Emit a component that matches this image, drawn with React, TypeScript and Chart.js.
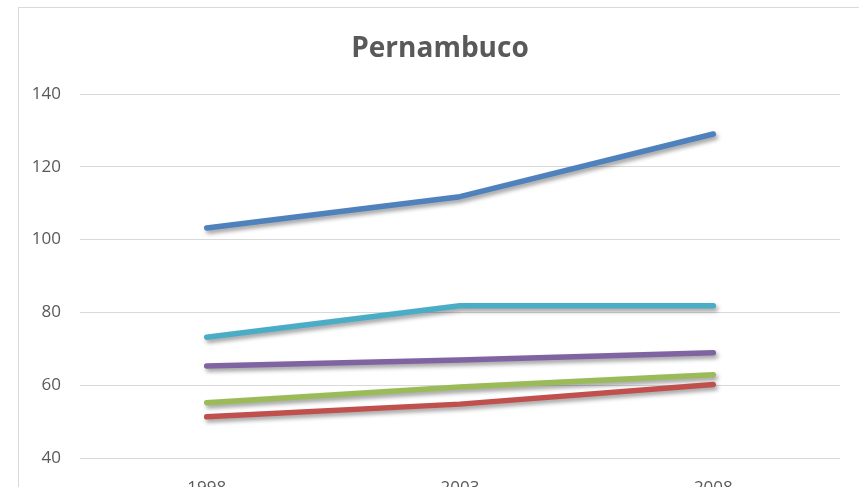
import React, { useEffect, useRef } from "react";
import { Chart, registerables } from "chart.js";

Chart.register(...registerables);

const categories = ["1998", "2003", "2008"];
const serieAzul = [103.2, 111.8, 129.0];
const serieCiano = [73.2, 81.8, 81.8];
const serieRoxa = [65.3, 66.9, 68.9];
const serieVerde = [55.2, 59.5, 62.9];
const serieVermelha = [51.3, 54.8, 60.2];
const yTicks = [40, 60, 80, 100, 120, 140];

const shadowPlugin = {
  id: "lineShadow",
  beforeDatasetDraw(chart: any) {
    const ctx = chart.ctx;
    ctx.save();
    ctx.shadowColor = "rgba(0,0,0,0.38)";
    ctx.shadowBlur = 4;
    ctx.shadowOffsetX = 2;
    ctx.shadowOffsetY = 3;
  },
  afterDatasetDraw(chart: any) {
    chart.ctx.restore();
  },
};

// centre the title over the whole chart frame rather than the padded area
const titleShiftPlugin = {
  id: "titleShift",
  afterLayout(chart: any) {
    const tb = chart.titleBlock;
    if (tb) {
      tb.left = 21;
      tb.right = chart.width - 19;
    }
  },
};

export default function App() {
  const ref = useRef<HTMLCanvasElement>(null);
  useEffect(() => {
    if (!ref.current) return;
    const mk = (label: string, data: number[], color: string) => ({
      label,
      data,
      borderColor: color,
      backgroundColor: color,
      borderWidth: 5.5,
      borderCapStyle: "round" as const,
      borderJoinStyle: "round" as const,
      pointRadius: 0,
      tension: 0,
    });
    const chart = new Chart(ref.current, {
      type: "line",
      data: {
        labels: categories,
        datasets: [
          mk("Série 1", serieAzul, "#4F81BD"),
          mk("Série 2", serieVermelha, "#C0504D"),
          mk("Série 3", serieVerde, "#9BBB59"),
          mk("Série 4", serieRoxa, "#8064A2"),
          mk("Série 5", serieCiano, "#4BACC6"),
        ],
      },
      plugins: [shadowPlugin, titleShiftPlugin],
      options: {
        responsive: false,
        animation: false,
        layout: { padding: { left: 0, right: 19, top: 0, bottom: 0 } },
        plugins: {
          legend: { display: false },
          tooltip: { enabled: false },
          title: {
            display: true,
            text: "Pernambuco",
            color: "#595959",
            font: { family: "'Open Sans'", size: 28, weight: "bold" },
            padding: { top: 24, bottom: 28.4 },
          },
        },
        scales: {
          x: {
            offset: true,
            grid: { display: false },
            border: { display: false },
            ticks: {
              color: "#595959",
              font: { family: "'Open Sans'", size: 17 },
              padding: 12,
              maxRotation: 0,
            },
            afterFit(scale: any) {
              scale.height = 40;
            },
          },
          y: {
            min: 40,
            max: 140,
            afterBuildTicks(scale: any) {
              scale.ticks = yTicks.map((v) => ({ value: v }));
            },
            grid: { color: "#d9d9d9", lineWidth: 1, drawTicks: false },
            border: { display: false },
            ticks: {
              color: "#595959",
              font: { family: "'Open Sans'", size: 17 },
              padding: 19,
            },
            afterFit(scale: any) {
              scale.width = 61;
            },
          },
        },
      },
    });
    return () => chart.destroy();
  }, []);

  return (
    <div
      style={{
        position: "fixed",
        left: 0,
        top: 0,
        width: 859,
        height: 487,
        overflow: "hidden",
        background: "#fff",
      }}
    >
      <div
        style={{
          position: "absolute",
          left: 18,
          top: 7,
          width: 860,
          height: 500,
          border: "1px solid #d9d9d9",
          boxSizing: "border-box",
        }}
      >
        <canvas
          ref={ref}
          width={840}
          height={490}
          style={{ position: "absolute", left: 0, top: 0, width: 840, height: 490 }}
        />
      </div>
    </div>
  );
}
